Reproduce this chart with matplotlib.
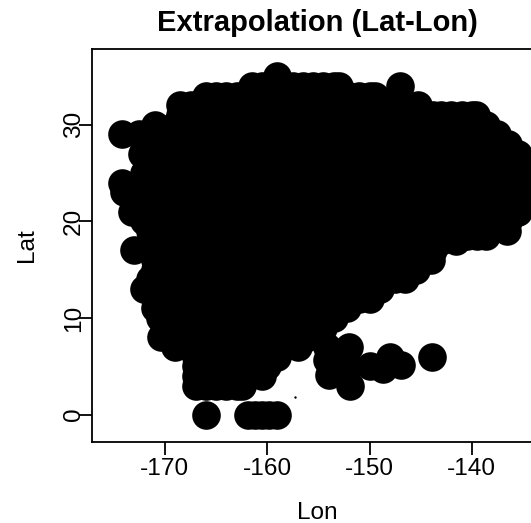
import matplotlib.pyplot as plt

plt.rcParams['font.family'] = ['Liberation Sans', 'DejaVu Sans']
plt.rcParams['axes.unicode_minus'] = False

# grid points, one row per latitude (lon values of that row)
row_lat = [35, 34, 33, 32, 31, 30, 29, 28, 27, 26, 25, 24, 23, 22, 21, 20,
           19, 18.5, 18, 17, 16, 15, 14, 13, 12, 11, 10, 9, 8, 7, 6, 5, 4, 3, 0]
row_lon = [
    [-159],
    [-161.5, -160.5, -159.5, -158.5, -157.5, -156.5, -155.5, -154.5, -153.5, -153, -147],
    [-166, -165, -164, -163, -162, -152, -151, -150, -149.5],
    [-168.5, -167.5, -166, -164, -162, -160, -158, -156, -154, -152, -150, -148, -146.5, -145.3],
    [-168.5, -143.8, -143, -142, -141, -140, -139.6],
    [-171, -169, -167, -165, -163, -161, -159, -157, -155, -153, -151, -149, -147, -145,
     -143, -141, -139, -138.6],
    [-174.2, -172.5, -137.5],
    [-172, -170, -168, -166, -164, -162, -160, -158, -156, -154, -152, -150, -148, -146,
     -144, -142, -140, -138, -136.5],
    [-172.2, -135.5],
    [-171.3, -169, -167, -165, -163, -161, -159, -157, -155, -153, -151, -149, -147, -145,
     -143, -141, -139, -137, -135],
    [-172, -134.5],
    [-174.2, -172, -170, -168, -166, -164, -162, -160, -158, -156, -154, -152, -150, -148,
     -146, -144, -142, -140, -138, -136, -134.5],
    [-174, -134.5],
    [-173, -171, -169, -167, -165, -163, -161, -159, -157, -155, -153, -151, -149, -147,
     -145, -143, -141, -139, -137, -135],
    [-173.2, -135.5],
    [-172, -170, -168, -166, -164, -162, -160, -158, -156, -154, -152, -150, -148, -146,
     -144, -142, -140, -138, -136.5],
    [-171.5, -136.6],
    [-141.5, -140.5, -139.5, -138.6],
    [-171.5, -169, -167, -165, -163, -161, -159, -157, -155, -153, -151, -149, -147, -145,
     -143, -141.5],
    [-173, -143.8],
    [-171, -170, -168, -166, -164, -162, -160, -158, -156, -154, -152, -150, -148, -146,
     -145, -144],
    [-171, -145.5],
    [-171.5, -169, -167, -165, -163, -161, -159, -157, -155, -153, -151, -149, -147.5, -146.5],
    [-172, -149],
    [-171, -170, -168, -166, -164, -162, -160, -158, -156, -154, -152, -151, -150],
    [-171, -152.2],
    [-170.5, -169, -167, -165, -163, -161, -159, -157, -155, -153.5],
    [-170, -154.5],
    [-170.4, -168, -166, -164, -162, -160, -158, -156],
    [-169, -157],
    [-167, -165, -163, -161, -159],
    [-167, -160],
    [-167, -166, -164, -162, -160.5],
    [-167, -166, -165, -164, -163, -162.5],
    [-166, -161.9, -161.2, -160.5, -159.8, -159],
]

# separate group south-east of the main block
cluster_lon = [-154.2, -152.0, -154.2, -154.0, -151.9, -152.0, -150.0, -148.7, -148.0, -146.9, -143.9]
cluster_lat = [7.0, 7.0, 5.6, 4.1, 3.0, 5.0, 5.0, 4.7, 6.0, 5.1, 6.0]

speck_lon = [-157.3]
speck_lat = [1.8]

lon = [x for row in row_lon for x in row] + cluster_lon
lat = [y for y, row in zip(row_lat, row_lon) for _ in row] + cluster_lat

W, H = 531, 523
fig = plt.figure(figsize=(W / 100, H / 100), dpi=100)
ax = fig.add_axes([92 / W, (H - 442) / H, (542 - 92) / W, (442 - 49) / H])

ax.scatter(lon, lat, s=424, c='black', linewidths=0)
ax.scatter(speck_lon, speck_lat, s=3, c='black', linewidths=0)

ax.set_xlim(-177.13, -133.14)
ax.set_ylim(-2.83, 37.82)
ax.set_xticks([-170, -160, -150, -140])
ax.set_yticks([0, 10, 20, 30])

for sp in ax.spines.values():
    sp.set_linewidth(1.3)
ax.tick_params(axis='both', length=9.4, width=1.3, labelsize=17.6, colors='black')
ax.tick_params(axis='x', pad=1.8)
ax.tick_params(axis='y', pad=-0.7)
for lab in ax.get_yticklabels():
    lab.set(rotation=90, rotation_mode='anchor', ha='center', va='baseline')

ax.set_title('Extrapolation (Lat-Lon)', fontsize=21, fontweight='bold', pad=13.2)
ax.set_xlabel('Lon', fontsize=17.6, va='baseline')
ax.xaxis.set_label_coords(0.5, -77 / 393)
ax.set_ylabel('Lat', fontsize=17.6, va='baseline')
ax.yaxis.set_label_coords(-58.7 / 450, 0.5)

fig.savefig('out.png', dpi=100)
